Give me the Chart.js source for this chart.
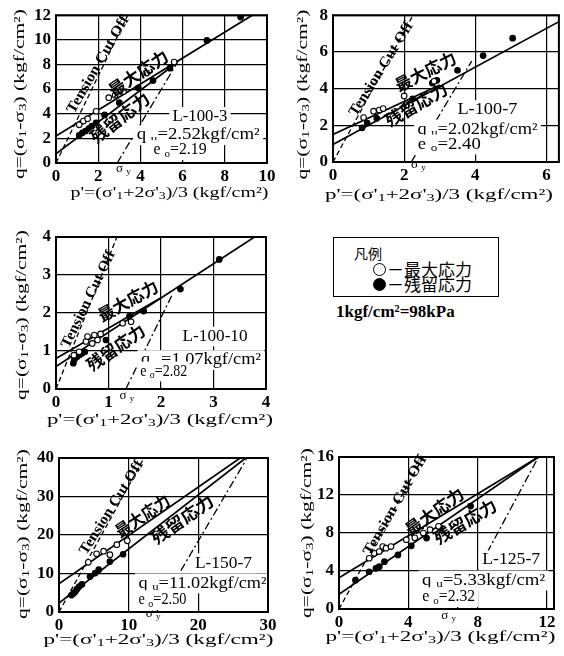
<!DOCTYPE html>
<html lang="ja">
<head>
<meta charset="UTF-8">
<title>q-p' 関係</title>
<script src="https://cdn.jsdelivr.net/npm/chart.js"></script>
<style>
    body { margin: 0; background: #fff; }
    .tela { position: relative; width: 564px; height: 656px; background: #fff; overflow: hidden; }
    .painel { position: absolute; }
    .legenda { position: absolute; left: 333px; top: 237px; width: 166px; height: 60px; border: 1.5px solid #000; box-sizing: border-box; font-family: "Noto Sans CJK JP", sans-serif; }
    .legenda div { position: absolute; white-space: nowrap; line-height: 1; }
    .bola { width: 13px; height: 13px; border: 1.5px solid #000; border-radius: 50%; box-sizing: border-box; }
    .unidade { position: absolute; left: 336px; top: 302px; font: bold 17px "Liberation Serif", serif; white-space: nowrap; }
</style>
</head>
<body>
<div class="tela">
    <div class="painel" style="left:0;top:0;width:282px;height:205px"><canvas id="g1"></canvas></div>
    <div class="painel" style="left:282px;top:0;width:282px;height:204px"><canvas id="g2"></canvas></div>
    <div class="painel" style="left:0;top:220px;width:282px;height:211px"><canvas id="g3"></canvas></div>
    <div class="painel" style="left:0;top:440px;width:282px;height:214px"><canvas id="g4"></canvas></div>
    <div class="painel" style="left:282px;top:440px;width:282px;height:211px"><canvas id="g5"></canvas></div>

    <!-- legenda -->
    <div class="legenda">
        <div style="left:20px;top:8px;font-size:14px">凡例</div>
        <div class="bola" style="left:39px;top:25px;background:#fff"></div>
        <div style="left:53px;top:22px;font-size:17px">－最大応力</div>
        <div class="bola" style="left:39px;top:40px;background:#000"></div>
        <div style="left:53px;top:37px;font-size:17px">－残留応力</div>
    </div>
    <div class="unidade">1kgf/cm²=98kPa</div>
</div>

<script>
    // L-100-3
    const p1Peak = [[1.1,3.1],[1.3,3.4],[1.5,3.6],[1.9,4.2],[2.5,5.3],[2.8,5.5],[3.2,5.8],[4.3,7.3],[5.6,8.2]];
    const p1Resid = [[1.1,2.25],[1.25,2.45],[1.4,2.6],[1.55,2.8],[1.7,3.0],[1.9,3.25],[2.3,3.9],[3.0,4.9],[3.9,6.1],[4.6,6.7],[5.4,7.7],[7.15,9.95],[8.75,11.85]];
    const p1Tco = [[0,0],[3.4,12]];
    const p1MaxLine = [[0,2.2],[9.3,12]];
    const p1ResLine = [[0,0.75],[5.7,8.1]];
    const p1SyLine = [[2.9,0],[5.8,8.3]];
    const p1XTicks = [0,2,4,6,8,10];
    const p1YTicks = [0,2,4,6,8,10,12];

    // L-100-7
    const p2Peak = [[0.86,2.42],[1.14,2.77],[1.3,2.83],[1.41,2.91],[2.0,3.6],[2.84,4.4]];
    const p2Resid = [[0.82,1.86],[0.96,2.12],[1.23,2.38],[2.24,3.44],[2.79,4.3],[2.92,4.45],[3.5,5.0],[4.22,5.8],[5.05,6.75]];
    const p2Tco = [[0,0],[2.25,8]];
    const p2MaxLine = [[0,1.5],[3.0,4.2]];
    const p2ResLine = [[0,0.95],[6.35,7.65]];
    const p2SyLine = [[2.2,0],[3.9,5.5]];
    const p2XTicks = [0,2,4,6];
    const p2YTicks = [0,2,4,6,8];

    // L-100-10
    const p3Peak = [[0.34,0.89],[0.44,0.98],[0.57,1.25],[0.6,1.38],[0.69,1.2],[0.73,1.42],[0.79,1.29],[0.85,1.45],[1.27,1.73],[1.43,1.77]];
    const p3Resid = [[0.33,0.68],[0.35,0.77],[0.4,0.85],[0.45,0.9],[0.5,0.94],[0.55,0.98],[0.95,1.29],[1.4,1.92],[1.67,2.05],[2.37,2.63],[3.11,3.41]];
    const p3Tco = [[0,0],[1.16,4]];
    const p3MaxLine = [[0,0.8],[2.0,2.4]];
    const p3ResLine = [[0,0.59],[3.78,4]];
    const p3SyLine = [[1.33,0],[2.22,2.5]];
    const p3XTicks = [0,1,2,3,4];
    const p3YTicks = [0,1,2,3,4];

    // L-150-7
    const p4Peak = [[4.2,12.9],[5.4,15.1],[6.4,15.8],[7.3,14.9],[8.3,17.5],[9.8,18.5]];
    const p4Resid = [[1.8,4.4],[2.1,4.9],[2.35,5.3],[2.6,6.0],[2.9,6.6],[3.3,7.2],[4.45,9.2],[5.2,10.1],[5.7,11.0],[7.3,13.1],[9.2,15.0]];
    const p4Tco = [[0,0],[12.2,40]];
    const p4MaxLine = [[0,7.3],[26,40]];
    const p4ResLine = [[0,2.3],[26.8,40]];
    const p4SyLine = [[14,0],[27,40]];
    const p4XTicks = [0,10,20,30];
    const p4YTicks = [0,10,20,30,40];

    // L-125-7
    const p5Peak = [[1.74,5.34],[2.03,5.87],[2.32,6.04],[2.52,6.57],[2.71,6.4],[3.0,6.57],[3.88,7.29],[4.37,7.5],[4.86,8.0],[5.25,8.35],[5.74,8.7]];
    const p5Resid = [[0.95,3.03],[1.74,3.92],[2.13,4.28],[2.32,4.45],[2.62,4.98],[3.4,5.69],[4.17,6.65],[5.05,7.47],[5.84,8.53],[7.59,10.83]];
    const p5Tco = [[0,0],[4.85,16]];
    const p5MaxLine = [[0,3.3],[11.5,16]];
    const p5ResLine = [[0,1.55],[11.5,16]];
    const p5SyLine = [[6.8,0],[11.5,16]];
    const p5XTicks = [0,4,8,12];
    const p5YTicks = [0,4,8,12,16];

    const tituloY = "q=(σ_1-σ_3) (kgf/cm²)";
    const tituloX = "p'=(σ'_1+2σ'_3)/3 (kgf/cm²)";

    // texto com subscrito: "_x" vira x pequeno
    function partes(t) {
        const out = []; let buf = '';
        for (let i = 0; i < t.length; i++) {
            if (t[i] === '_') { if (buf) out.push([buf, 0]); buf = ''; out.push([t[++i], 1]); }
            else buf += t[i];
        }
        if (buf) out.push([buf, 0]);
        return out;
    }

    function escreve(ctx, it, x, y) {
        const tam = it.size || 15;
        const fam = it.fam || '"Liberation Serif"';
        const peso = it.bold ? 'bold ' : '';
        const fonte = s => peso + s + 'px ' + fam + ', "Noto Sans CJK JP", sans-serif';
        const ps = partes(it.t);
        ctx.save();
        let larg = 0;
        ps.forEach(([s, sub]) => { ctx.font = fonte(sub ? tam * 0.7 : tam); larg += ctx.measureText(s).width; });
        ctx.translate(x, y);
        ctx.rotate((it.rot || 0) * Math.PI / 180);
        ctx.scale(it.w ? it.w / larg : 1, 1);
        let cx = -larg / 2;
        if (it.bg) { ctx.fillStyle = '#fff'; ctx.fillRect(cx - 3, -tam * 0.62, larg + 6, tam * 1.24); }
        ctx.fillStyle = '#000';
        ctx.textBaseline = 'middle';
        ctx.textAlign = 'left';
        ps.forEach(([s, sub]) => {
            ctx.font = fonte(sub ? tam * 0.7 : tam);
            ctx.fillText(s, cx, sub ? tam * 0.22 : 0);
            cx += ctx.measureText(s).width;
        });
        ctx.restore();
    }

    // textos e moldura
    Chart.register({
        id: 'notas',
        afterDraw(chart, args, opts) {
            const ctx = chart.ctx, a = chart.chartArea;
            const sx = chart.scales.x, sy = chart.scales.y;
            (opts.itens || []).forEach(it => {
                let x, y;
                if (it.eixo === 'x') { x = (a.left + a.right) / 2 + (it.dx || 0); y = a.bottom + it.off; }
                else if (it.eixo === 'y') { x = a.left - it.off; y = (a.top + a.bottom) / 2 + (it.dy || 0); }
                else { x = sx.getPixelForValue(it.p); y = sy.getPixelForValue(it.q); }
                escreve(ctx, it, x, y);
            });
            ctx.save();
            ctx.lineWidth = 2;
            ctx.strokeStyle = '#000';
            ctx.strokeRect(a.left, a.top, a.right - a.left, a.bottom - a.top);
            ctx.restore();
        }
    });

    const xy = arr => arr.map(([x, y]) => ({ x, y }));

    function linha(arr, dash, esp) {
        return { data: xy(arr), showLine: true, borderColor: '#000', borderWidth: esp, borderDash: dash, pointRadius: 0, fill: false };
    }
    function pontos(arr, cor) {
        return { data: xy(arr), showLine: false, pointRadius: 2.8, pointBackgroundColor: cor, pointBorderColor: '#000', pointBorderWidth: 1.1 };
    }

    const fonteTick = { family: 'Liberation Serif', size: 17, weight: 'bold' };

    function painel(id, g, d, itens) {
        return new Chart(document.getElementById(id), {
            type: 'scatter',
            data: {
                datasets: [
                    pontos(d.peak, '#fff'),
                    pontos(d.resid, '#000'),
                    linha(d.tco, [5, 3], 1.3),
                    linha(d.maxL, [], 1.7),
                    linha(d.resL, [], 1.7),
                    linha(d.sy, [8, 3, 2, 3], 1.3)
                ]
            },
            options: {
                responsive: true,
                maintainAspectRatio: false,
                animation: false,
                layout: { padding: { top: g.top, right: g.right, left: 0, bottom: 0 } },
                plugins: {
                    legend: { display: false },
                    tooltip: { enabled: false },
                    notas: {
                        itens: [
                            { t: tituloY, eixo: 'y', off: g.yw - g.yt, dy: g.ydy, rot: -90, size: 15, w: 170 },
                            { t: tituloX, eixo: 'x', off: g.xt, dx: g.xdx, size: 15, w: g.xw }
                        ].concat(itens)
                    }
                },
                scales: {
                    x: {
                        type: 'linear', min: 0, max: g.xmax,
                        afterBuildTicks: s => { s.ticks = d.xt.map(v => ({ value: v })); },
                        afterFit: s => { s.height = 42; },
                        grid: { color: '#000', lineWidth: 1.2, drawTicks: false },
                        border: { display: false },
                        ticks: { padding: 3, color: '#000', font: fonteTick, maxRotation: 0 }
                    },
                    y: {
                        type: 'linear', min: 0, max: g.ymax,
                        afterBuildTicks: s => { s.ticks = d.yt.map(v => ({ value: v })); },
                        afterFit: s => { s.width = g.yw; },
                        grid: { color: '#000', lineWidth: 1.2, drawTicks: false },
                        border: { display: false },
                        ticks: { padding: 5, color: '#000', font: fonteTick }
                    }
                }
            }
        });
    }

    const jp = '"Noto Sans CJK JP"';

    painel('g1', { top: 14, right: 15, yw: 56, yt: 20, ydy: 5, xt: 30, xdx: 8, xw: 198, xmax: 10, ymax: 12 },
        { peak: p1Peak, resid: p1Resid, tco: p1Tco, maxL: p1MaxLine, resL: p1ResLine, sy: p1SyLine, xt: p1XTicks, yt: p1YTicks },
        [
            { t: 'Tension Cut Off', p: 2.0, q: 7.98, rot: -60, size: 15, bold: true, w: 110 },
            { t: '最大応力', p: 3.9, q: 7.3, rot: -34, size: 17, bold: true, fam: jp, w: 68 },
            { t: '残留応力', p: 3.03, q: 3.67, rot: -38, size: 17, bold: true, fam: jp, w: 70 },
            { t: 'L-100-3', p: 6.82, q: 3.73, size: 16, w: 55, bg: true },
            { t: 'q _u=2.52kgf/cm²', p: 6.74, q: 2.26, size: 16, w: 123, bg: true },
            { t: 'e _o=2.19', p: 5.88, q: 1.05, size: 16, w: 53, bg: true },
            { t: 'σ _y', p: 3.19, q: -0.43, size: 13 }
        ]);

    painel('g2', { top: 10, right: 3, yw: 51, yt: 21, ydy: 6, xt: 33, xdx: -7, xw: 228, xmax: 6.35, ymax: 8 },
        { peak: p2Peak, resid: p2Resid, tco: p2Tco, maxL: p2MaxLine, resL: p2ResLine, sy: p2SyLine, xt: p2XTicks, yt: p2YTicks },
        [
            { t: 'Tension Cut Off', p: 1.36, q: 5.06, rot: -58, size: 15, bold: true, w: 108 },
            { t: '最大応力', p: 2.6, q: 4.93, rot: -27, size: 17, bold: true, fam: jp, w: 66 },
            { t: '残留応力', p: 2.34, q: 3.13, rot: -30, size: 17, bold: true, fam: jp, w: 69 },
            { t: 'L-100-7', p: 4.34, q: 2.83, size: 16, w: 60, bg: true },
            { t: 'q _u=2.02kgf/cm²', p: 4.06, q: 1.77, size: 16, w: 120, bg: true },
            { t: 'e _o=2.40', p: 3.27, q: 0.95, size: 16, w: 63, bg: true },
            { t: 'σ _y', p: 2.4, q: -0.16, size: 13 }
        ]);

    painel('g3', { top: 17, right: 16, yw: 56, yt: 22, ydy: 2, xt: 31, xdx: -1, xw: 226, xmax: 4, ymax: 4 },
        { peak: p3Peak, resid: p3Resid, tco: p3Tco, maxL: p3MaxLine, resL: p3ResLine, sy: p3SyLine, xt: p3XTicks, yt: p3YTicks },
        [
            { t: 'Tension Cut Off', p: 0.62, q: 2.36, rot: -64, size: 15, bold: true, w: 106 },
            { t: '最大応力', p: 1.37, q: 2.32, rot: -29, size: 17, bold: true, fam: jp, w: 66 },
            { t: '残留応力', p: 1.14, q: 1.09, rot: -35, size: 17, bold: true, fam: jp, w: 67 },
            { t: 'L-100-10', p: 3.03, q: 1.38, size: 16, w: 65, bg: true },
            { t: 'q _u=1.07kgf/cm²', p: 2.76, q: 0.76, size: 16, w: 120, bg: true },
            { t: 'e _o=2.82', p: 2.05, q: 0.46, size: 16, w: 47, bg: true },
            { t: 'σ _y', p: 1.35, q: -0.18, size: 13 }
        ]);

    painel('g4', { top: 18, right: 14, yw: 59, yt: 23, ydy: -1, xt: 28, xdx: -5, xw: 230, xmax: 30, ymax: 40 },
        { peak: p4Peak, resid: p4Resid, tco: p4Tco, maxL: p4MaxLine, resL: p4ResLine, sy: p4SyLine, xt: p4XTicks, yt: p4YTicks },
        [
            { t: 'Tension Cut Off', p: 7.56, q: 27.1, rot: -58, size: 15, bold: true, w: 108 },
            { t: '最大応力', p: 12, q: 25, rot: -34, size: 17, bold: true, fam: jp, w: 62 },
            { t: '残留応力', p: 17.7, q: 24.1, rot: -35, size: 17, bold: true, fam: jp, w: 72 },
            { t: 'L-150-7', p: 23.6, q: 12.65, size: 16, w: 57, bg: true },
            { t: 'q _u=11.02kgf/cm²', p: 20.6, q: 7.45, size: 16, w: 128, bg: true },
            { t: 'e _o=2.50', p: 14.85, q: 3.1, size: 16, w: 48, bg: true },
            { t: 'σ _y', p: 13.5, q: -0.35, size: 13 }
        ]);

    painel('g5', { top: 17, right: 10, yw: 57, yt: 25, ydy: 0, xt: 28, xdx: -6, xw: 230, xmax: 12.4, ymax: 16 },
        { peak: p5Peak, resid: p5Resid, tco: p5Tco, maxL: p5MaxLine, resL: p5ResLine, sy: p5SyLine, xt: p5XTicks, yt: p5YTicks },
        [
            { t: 'Tension Cut Off', p: 3.25, q: 10.9, rot: -60, size: 15, bold: true, w: 113 },
            { t: '最大応力', p: 5.5, q: 10.25, rot: -36, size: 17, bold: true, fam: jp, w: 68 },
            { t: '残留応力', p: 7.28, q: 9.19, rot: -31, size: 17, bold: true, fam: jp, w: 70 },
            { t: 'L-125-7', p: 9.93, q: 5.13, size: 16, w: 58, bg: true },
            { t: 'q _u=5.33kgf/cm²', p: 8.34, q: 3.0, size: 16, w: 123, bg: true },
            { t: 'e _o=2.32', p: 6.33, q: 1.25, size: 16, w: 53, bg: true },
            { t: 'σ _y', p: 6.33, q: -0.7, size: 13 }
        ]);
</script>
</body>
</html>
